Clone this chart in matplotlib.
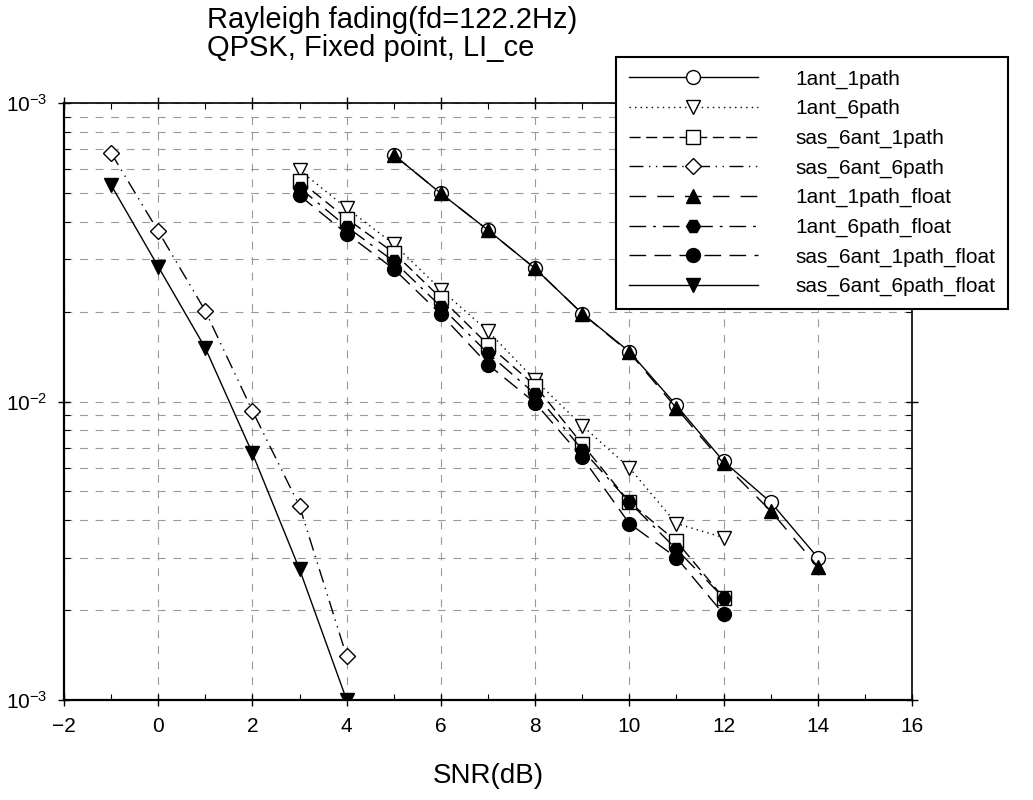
import matplotlib
matplotlib.use("Agg")
import matplotlib.pyplot as plt
from matplotlib.ticker import FixedLocator, FixedFormatter, MultipleLocator, NullFormatter

plt.rcParams['font.family'] = ['Liberation Sans', 'DejaVu Sans']
plt.rcParams['mathtext.fontset'] = 'custom'
plt.rcParams['mathtext.rm'] = 'Liberation Sans'
plt.rcParams['mathtext.it'] = 'Liberation Sans'

# SNR points for each curve group
snr_1path = [5, 6, 7, 8, 9, 10, 11, 12, 13, 14]
snr_6path = [3, 4, 5, 6, 7, 8, 9, 10, 11, 12]
snr_sas6 = [-1, 0, 1, 2, 3, 4]

# BER values
ant1_1path = [0.067, 0.0498, 0.0375, 0.0279, 0.0197, 0.0147, 0.0097, 0.0063, 0.0046, 0.0030]
ant1_6path = [0.0596, 0.0444, 0.0337, 0.0237, 0.0172, 0.0118, 0.0083, 0.0060, 0.0039, 0.0035]
sas_6ant_1path = [0.055, 0.041, 0.0315, 0.0222, 0.0155, 0.0113, 0.0072, 0.0046, 0.0034, 0.0022]
sas_6ant_6path = [0.068, 0.0372, 0.0201, 0.0093, 0.00446, 0.0014]
ant1_1path_float = [0.067, 0.0498, 0.0375, 0.0279, 0.0197, 0.0146, 0.0095, 0.0062, 0.0043, 0.0028]
ant1_6path_float = [0.052, 0.0385, 0.0295, 0.0208, 0.0145, 0.0106, 0.0069, 0.0046, 0.0032, 0.0022]
sas_6ant_1path_float = [0.049, 0.0365, 0.0278, 0.0196, 0.0133, 0.0099, 0.0065, 0.0039, 0.0030, 0.00194]
sas_6ant_6path_float = [0.0531, 0.0283, 0.0151, 0.0067, 0.00274, 0.0010]

y_tick_vals = [1e-3, 1e-2, 1e-1]
y_tick_text = [r'$\mathregular{10^{-3}}$', r'$\mathregular{10^{-2}}$', r'$\mathregular{10^{-3}}$']

fig = plt.figure(figsize=(10.33, 8), dpi=100)
ax = fig.add_axes([64 / 1033, 1 - 700 / 800, (912 - 64) / 1033, (700 - 103) / 800])

lw = 1.0
ms = 10
open_kw = dict(color='black', markerfacecolor='white', markeredgecolor='black', markersize=ms, linewidth=lw)
fill_kw = dict(color='black', markerfacecolor='black', markeredgecolor='black', markersize=ms, linewidth=lw)

ax.plot(snr_1path, ant1_1path, marker='o', linestyle='-', label='1ant_1path', **open_kw)
ax.plot(snr_6path, ant1_6path, marker='v', linestyle=(0, (1, 3)), label='1ant_6path', **open_kw)
ax.plot(snr_6path, sas_6ant_1path, marker='s', linestyle=(0, (8, 4)), label='sas_6ant_1path', **open_kw)
ax.plot(snr_sas6, sas_6ant_6path, marker='D', linestyle=(0, (10, 4, 1, 4, 1, 4)), label='sas_6ant_6path',
        **dict(open_kw, markersize=8))
ax.plot(snr_1path, ant1_1path_float, marker='^', linestyle=(0, (12, 8)), label='1ant_1path_float', **fill_kw)
ax.plot(snr_6path, ant1_6path_float, marker='H', linestyle=(0, (12, 5, 2, 5)), label='1ant_6path_float', **fill_kw)
ax.plot(snr_6path, sas_6ant_1path_float, marker='o', linestyle=(0, (12, 6)), label='sas_6ant_1path_float', **fill_kw)
ax.plot(snr_sas6, sas_6ant_6path_float, marker='v', linestyle='-', label='sas_6ant_6path_float', **fill_kw)

ax.set_yscale('log')
ax.set_xlim(-2, 16)
ax.set_ylim(1e-3, 1e-1)

ax.xaxis.set_major_locator(MultipleLocator(2))
ax.xaxis.set_minor_locator(MultipleLocator(1))
ax.yaxis.set_major_locator(FixedLocator(y_tick_vals))
ax.yaxis.set_major_formatter(FixedFormatter(y_tick_text))
ax.yaxis.set_minor_formatter(NullFormatter())

ax.tick_params(axis='both', which='major', direction='inout', length=8, width=1, labelsize=15,
               top=True, right=True, pad=8)
ax.tick_params(axis='both', which='minor', direction='in', length=4, width=0.8, top=True, right=True)

ax.grid(True, which='major', axis='x', color='#999999', linestyle=(0, (7, 7)), linewidth=0.8)
ax.grid(True, which='both', axis='y', color='#999999', linestyle=(0, (7, 7)), linewidth=0.8)

for side in ['left', 'bottom']:
    ax.spines[side].set_linewidth(1.6)
for side in ['top', 'right']:
    ax.spines[side].set_linewidth(1.2)

ax.set_xlabel('SNR(dB)', fontsize=20, labelpad=20)

fig.text(207 / 1033, 1 - 6 / 800, 'Rayleigh fading(fd=122.2Hz)\nQPSK, Fixed point, LI_ce',
         ha='left', va='top', fontsize=21, linespacing=1.0)

leg = fig.legend(loc='upper left', bbox_to_anchor=(616 / 1033, 1 - 57 / 800), fontsize=15,
                 handlelength=6.2, handletextpad=1.8, labelspacing=0.5, borderpad=0.6,
                 fancybox=False, framealpha=1, edgecolor='black', borderaxespad=0)
leg.get_frame().set_linewidth(1.5)

fig.savefig('out.png', dpi=100)
